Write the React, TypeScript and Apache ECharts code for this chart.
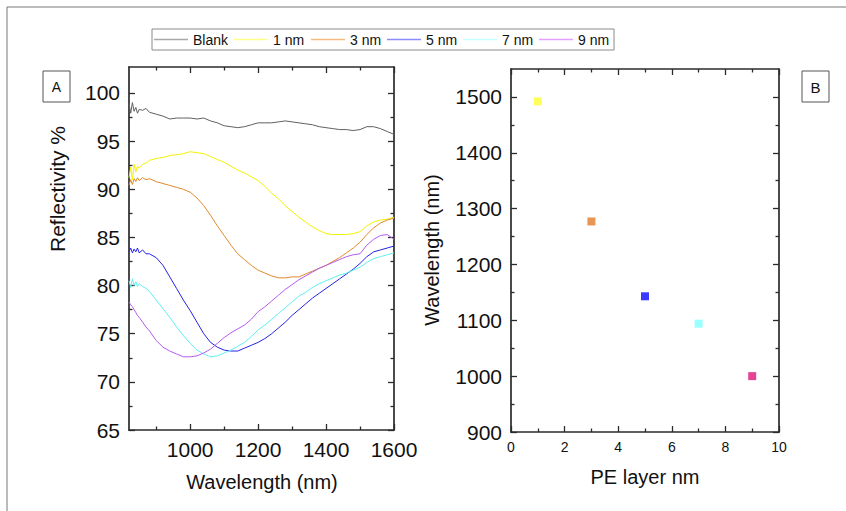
import React, { useEffect, useRef } from "react";
import * as echarts from "echarts";

// Panel A: reflectivity spectra
const wavelengths = [
  820, 825, 830, 835, 840, 845, 850, 860, 870, 880,
  900, 920, 940, 960, 980, 1000, 1020, 1040, 1060, 1080,
  1100, 1120, 1140, 1160, 1180, 1200, 1220, 1240, 1260, 1280,
  1300, 1320, 1340, 1360, 1380, 1400, 1420, 1440, 1460, 1480,
  1500, 1520, 1540, 1560, 1580, 1600,
];
const blank = [
  98.9, 97.9, 99.0, 98.1, 98.5, 97.9, 98.3, 98.2, 98.4, 98.0,
  97.8, 97.6, 97.3, 97.4, 97.4, 97.4, 97.3, 97.4, 97.1, 96.9,
  96.6, 96.5, 96.4, 96.5, 96.7, 96.9, 96.9, 96.9, 97.0, 97.1,
  97.0, 96.9, 96.8, 96.7, 96.5, 96.4, 96.3, 96.2, 96.2, 96.1,
  96.2, 96.5, 96.5, 96.3, 96.0, 95.7,
];
const nm1 = [
  91.2, 92.3, 91.0, 92.6, 91.8, 92.4, 92.2, 92.6, 92.7, 93.0,
  93.2, 93.3, 93.5, 93.6, 93.7, 93.9, 93.8, 93.7, 93.4, 93.1,
  92.8, 92.4, 92.0, 91.7, 91.3, 90.9, 90.3, 89.6, 89.0, 88.3,
  87.7, 87.1, 86.6, 86.1, 85.7, 85.4, 85.3, 85.3, 85.3, 85.4,
  85.6, 86.2, 86.6, 86.8, 86.9, 87.1,
];
const nm3 = [
  90.4, 91.0, 90.5, 91.1, 90.8, 91.2, 90.9, 91.2, 91.0, 91.1,
  90.8, 90.6, 90.4, 90.2, 90.0, 89.7, 89.1, 88.3, 87.3, 86.2,
  85.2, 84.2, 83.3, 82.7, 82.1, 81.6, 81.3, 81.0, 80.8, 80.8,
  80.9, 80.9, 81.2, 81.5, 81.8, 82.1, 82.5, 82.9, 83.4, 83.9,
  84.5, 85.3, 86.0, 86.5, 86.8, 87.0,
];
const nm5 = [
  83.5, 83.9, 83.4, 83.8, 83.5, 83.9, 83.4, 83.7, 83.3, 83.3,
  82.9, 82.1, 80.9, 79.7, 78.5, 77.4, 76.2, 75.0, 74.1, 73.6,
  73.3, 73.2, 73.2, 73.5, 73.8, 74.1, 74.5, 75.0, 75.6, 76.2,
  76.9, 77.5, 78.1, 78.7, 79.2, 79.7, 80.2, 80.7, 81.2, 81.7,
  82.3, 83.0, 83.5, 83.7, 83.9, 84.1,
];
const nm7 = [
  80.5, 79.8, 80.7, 80.0, 80.4, 79.9, 80.2, 79.9, 79.7, 79.4,
  78.5, 77.6, 76.7, 75.7, 74.8, 74.0, 73.3, 72.9, 72.6, 72.7,
  73.0, 73.3, 73.7, 74.1, 74.7, 75.4, 75.9, 76.5, 77.1, 77.7,
  78.3, 78.9, 79.3, 79.8, 80.2, 80.5, 80.8, 81.1, 81.3, 81.6,
  81.9, 82.4, 82.8, 83.0, 83.2, 83.4,
];
const nm9 = [
  78.3, 78.0, 77.8, 77.5, 77.2, 76.9, 76.7, 76.2, 75.7, 75.3,
  74.3, 73.6, 73.2, 72.9, 72.6, 72.6, 72.7, 73.0, 73.4, 74.0,
  74.6, 75.1, 75.5, 75.9, 76.5, 77.3, 77.8, 78.4, 79.0, 79.6,
  80.1, 80.6, 81.0, 81.4, 81.8, 82.1, 82.4, 82.7, 83.0, 83.2,
  83.3, 84.2, 84.8, 85.2, 85.3, 84.8,
];
const seriesNames = ["Blank", "1 nm", "3 nm", "5 nm", "7 nm", "9 nm"];

// Panel B: resonance wavelength vs PE layer
const peLayer = [1, 3, 5, 7, 9];
const resonance = [1492, 1277, 1143, 1094, 1000];

// Tick values
const aXMajor = [1000, 1200, 1400, 1600];
const aXMinor = [900, 1100, 1300, 1500];
const aYMajor = [65, 70, 75, 80, 85, 90, 95, 100];
const aYMinor = [67.5, 72.5, 77.5, 82.5, 87.5, 92.5, 97.5];
const bXMajor = [0, 2, 4, 6, 8, 10];
const bXMinor = [1, 3, 5, 7, 9];
const bYMajor = [900, 1000, 1100, 1200, 1300, 1400, 1500];
const bYMinor = [950, 1050, 1150, 1250, 1350, 1450];

const lineColors = ["#606060", "#f2f200", "#e0892e", "#2424e6", "#5ff0f0", "#b55cf0"];
const legendColors = ["#a8a8a8", "#ffff88", "#f6bb80", "#8c8cff", "#c4ffff", "#e3a0ff"];
const pointColors = ["#ffff33", "#e67a2a", "#0a0aff", "#80ffff", "#e0147a"];

const FONT = "'Liberation Sans', Arial, sans-serif";
const AXIS_COLOR = "#2b2b2b";

function axisSet(
  dim: "x" | "y",
  gridIndex: number,
  min: number,
  max: number,
  majors: number[],
  minors: number[],
  label: any
) {
  const mainPos = dim === "x" ? "bottom" : "left";
  const otherPos = dim === "x" ? "top" : "right";
  const base = {
    type: "value",
    gridIndex,
    min,
    max,
    splitLine: { show: false },
  };
  const mk = (pos: string, vals: number[], len: number, showLine: boolean, lbl: any) => ({
    ...base,
    position: pos,
    axisLine: { show: showLine, onZero: false, lineStyle: { color: AXIS_COLOR, width: 1.7 } },
    axisTick: {
      show: true,
      inside: true,
      length: len,
      customValues: vals,
      lineStyle: { color: AXIS_COLOR, width: 1.3 },
    },
    axisLabel: lbl
      ? { ...lbl, customValues: vals, formatter: (v: number) => String(v) }
      : { show: false },
  });
  return [
    mk(mainPos, majors, 6, true, label),
    mk(mainPos, minors, 3.5, false, null),
    mk(otherPos, majors, 6, true, null),
    mk(otherPos, minors, 3.5, false, null),
  ];
}

function legendGraphic() {
  const left = 152;
  const top = 29;
  const width = 462;
  const height = 21;
  const midY = top + height / 2;
  const lineW = 34;
  const itemStarts = [154, 234, 311, 387, 463, 539];
  const elems: any[] = [
    {
      type: "rect",
      shape: { x: left, y: top, width, height },
      style: { fill: "#fff", stroke: "#8a8a8a", lineWidth: 1 },
    },
  ];
  seriesNames.forEach((n, i) => {
    const x = itemStarts[i];
    elems.push({
      type: "line",
      shape: { x1: x, y1: midY, x2: x + lineW, y2: midY },
      style: { stroke: legendColors[i], lineWidth: 1.5 },
    });
    elems.push({
      type: "text",
      x: x + 39,
      y: midY,
      style: {
        text: n,
        font: `14px ${FONT}`,
        fill: "#111",
        align: "left",
        verticalAlign: "middle",
        textAlign: "left",
        textVerticalAlign: "middle",
      },
    });
  });
  return elems;
}

export default function App() {
  const ref = useRef<HTMLDivElement>(null);
  useEffect(() => {
    if (!ref.current) return;
    const chart = echarts.init(ref.current, undefined, { renderer: "svg" });
    const bigLabel = { show: true, fontSize: 21, color: "#111", fontFamily: FONT, margin: 9 };
    const smallLabel = { show: true, fontSize: 14, color: "#111", fontFamily: FONT, margin: 8 };
    const allSeriesA = [blank, nm1, nm3, nm5, nm7, nm9];
    const centered = { align: "center", verticalAlign: "middle", textAlign: "center", textVerticalAlign: "middle", fill: "#111" };

    const option: any = {
      animation: false,
      backgroundColor: "#ffffff",
      grid: [
        { left: 129, top: 67, width: 265, height: 363 },
        { left: 511, top: 69, width: 268, height: 363 },
      ],
      xAxis: [
        ...axisSet("x", 0, 820, 1600, aXMajor, aXMinor, bigLabel),
        ...axisSet("x", 1, 0, 10, bXMajor, bXMinor, smallLabel),
      ],
      yAxis: [
        ...axisSet("y", 0, 65, 102.7, aYMajor, aYMinor, bigLabel),
        ...axisSet("y", 1, 900, 1550, bYMajor, bYMinor, bigLabel),
      ],
      series: [
        ...allSeriesA.map((vals, i) => ({
          name: seriesNames[i],
          type: "line",
          xAxisIndex: 0,
          yAxisIndex: 0,
          showSymbol: false,
          symbol: "none",
          lineStyle: { width: 1, color: lineColors[i] },
          itemStyle: { color: lineColors[i] },
          data: wavelengths.map((w, j) => [w, vals[j]]),
        })),
        {
          name: "Resonance",
          type: "scatter",
          xAxisIndex: 4,
          yAxisIndex: 4,
          symbol: "rect",
          symbolSize: 8,
          data: peLayer.map((p, i) => ({
            value: [p, resonance[i]],
            itemStyle: { color: pointColors[i] },
          })),
        },
      ],
      graphic: [
        {
          type: "rect",
          silent: true,
          shape: { x: 7, y: 7, width: 1000, height: 1000 },
          style: { fill: "none", stroke: "#777", lineWidth: 1 },
        },
        ...legendGraphic(),
        {
          type: "rect",
          shape: { x: 43, y: 71, width: 27, height: 31 },
          style: { fill: "#fff", stroke: "#555", lineWidth: 1 },
        },
        { type: "text", x: 56.5, y: 87, style: { text: "A", font: `14px ${FONT}`, ...centered } },
        {
          type: "rect",
          shape: { x: 802, y: 71, width: 27, height: 31 },
          style: { fill: "#fff", stroke: "#555", lineWidth: 1 },
        },
        { type: "text", x: 815.5, y: 87, style: { text: "B", font: `15px ${FONT}`, ...centered } },
        {
          type: "text",
          x: 57,
          y: 189,
          rotation: Math.PI / 2,
          style: { text: "Reflectivity %", font: `21px ${FONT}`, ...centered },
        },
        { type: "text", x: 262, y: 482, style: { text: "Wavelength (nm)", font: `20px ${FONT}`, ...centered } },
        {
          type: "text",
          x: 432,
          y: 250,
          rotation: Math.PI / 2,
          style: { text: "Wavelength (nm)", font: `20px ${FONT}`, ...centered },
        },
        { type: "text", x: 645, y: 477, style: { text: "PE layer nm", font: `20px ${FONT}`, ...centered } },
      ],
    };
    chart.setOption(option);
    return () => chart.dispose();
  }, []);
  return (
    <div
      ref={ref}
      style={{ position: "fixed", left: 0, top: 0, width: 846, height: 511, background: "#fff" }}
    />
  );
}
